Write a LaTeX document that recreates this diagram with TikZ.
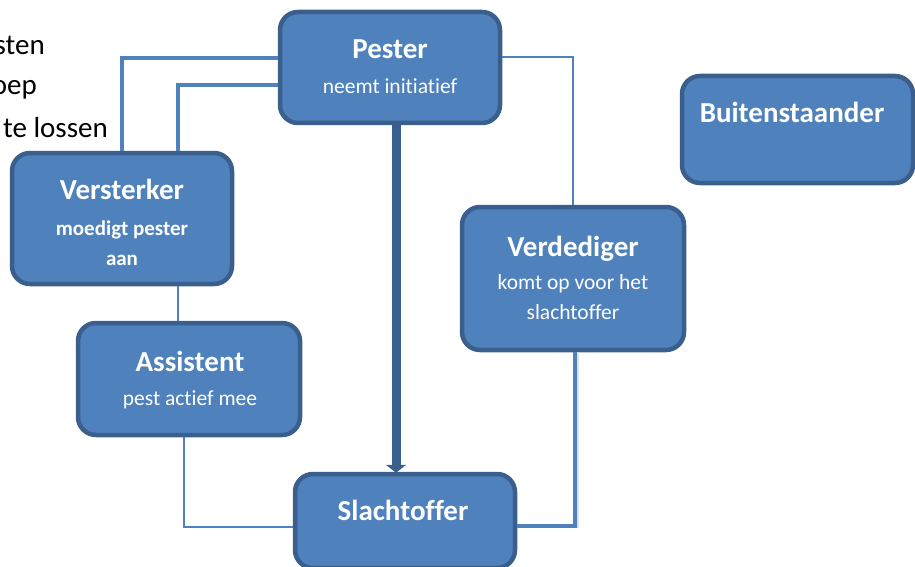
\documentclass[tikz,border=0pt]{standalone}
\usepackage{fontspec}
\setmainfont{Carlito}[Ligatures=NoCommon]
\usetikzlibrary{arrows.meta}
\definecolor{boxfill}{HTML}{4F81BD}
\definecolor{boxline}{HTML}{3A5F8C}
\definecolor{linkblue}{HTML}{4F81BD}
\begin{document}
\begin{tikzpicture}[x=1pt,y=-1pt,
  rolebox/.style={draw=boxline, fill=boxfill, line width=4.5pt, rounded corners=18pt, inner sep=0pt},
  titletext/.style={text=white, font=\fontsize{29}{32}\selectfont\bfseries, inner sep=0pt, anchor=base},
  subtext/.style={text=white, font=\fontsize{21.5}{24}\selectfont, inner sep=0pt, anchor=base},
  subbold/.style={text=white, font=\fontsize{21}{24}\selectfont\bfseries, inner sep=0pt, anchor=base},
  bgtext/.style={text=black, font=\fontsize{29}{34}\selectfont, inner sep=0pt, anchor=base east},
  thinlink/.style={draw=linkblue, line width=1.6pt},
  widelink/.style={draw=linkblue, line width=4.5pt},
  shadowlink/.style={draw=black!12, line width=4.5pt},
  mainarrow/.style={draw=boxline, line width=9pt, -{Triangle[width=20pt,length=8pt]}}
]
\useasboundingbox (0,0) rectangle (915,567);
\clip (0,0) rectangle (915,567);

% background text (cut off at the left edge)
\node[bgtext] (t1) at (45,55) {sten};
\node[bgtext] (t2) at (37,95) {oep};
\node[bgtext] (t3) at (108,138) {te lossen};

% boxes
\node[rolebox, minimum width=220pt, minimum height=111pt] (pester) at (390,67.5) {};
\node[rolebox, minimum width=231pt, minimum height=107pt] (buiten) at (797.5,129.5) {};
\node[rolebox, minimum width=220pt, minimum height=131pt] (verst) at (122,218.5) {};
\node[rolebox, minimum width=222pt, minimum height=143pt] (verd) at (573,278.5) {};
\node[rolebox, minimum width=222pt, minimum height=112pt] (assist) at (189,379) {};

% connectors
\draw[widelink] (pester.west |- 0,58) -| (verst.north -| 122,0);
\draw[widelink] (pester.west |- 0,85) -| (verst.north -| 178,0);
\draw[thinlink] (pester.east |- 0,57) -| (verd.north -| 573,0);
\draw[thinlink] (verst.south -| 178,0) -- (assist.north -| 178,0);

\node[rolebox, minimum width=220pt, minimum height=94pt] (slacht) at (405,521) {};

\draw[thinlink] (assist.south -| 184,0) |- (slacht.west |- 0,527);
\draw[shadowlink] (verd.south -| 577,0) |- ([yshift=2pt]slacht.east |- 0,528);
\draw[widelink] (verd.south -| 575,0) |- (slacht.east |- 0,526);
\draw[mainarrow] (pester.south -| 396,0) -- ([yshift=-1pt]slacht.north -| 396,0);

% texts
\node[titletext] (pesterT) at (390,59) {Pester};
\node[subtext] (pesterS) at (390,94) {neemt initiatief};
\node[titletext] (buitenT) at (792,122) {Buitenstaander};
\node[titletext] (verstT) at (122,199) {Versterker};
\node[subbold] (verstS1) at (122,235) {moedigt pester};
\node[subbold] (verstS2) at (122,265) {aan};
\node[titletext] (verdT) at (573,256) {Verdediger};
\node[subtext] (verdS1) at (573,289) {komt op voor het};
\node[subtext] (verdS2) at (573,319) {slachtoffer};
\node[titletext] (assistT) at (190,371) {Assistent};
\node[subtext] (assistS) at (190,405) {pest actief mee};
\node[titletext] (slachtT) at (403,520) {Slachtoffer};
\end{tikzpicture}
\end{document}
